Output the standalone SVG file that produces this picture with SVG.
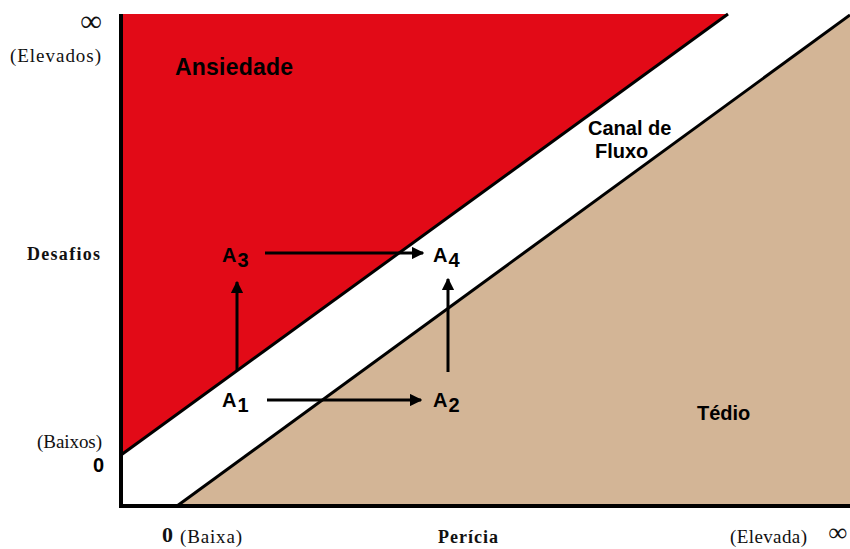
<svg xmlns="http://www.w3.org/2000/svg" width="850" height="549" viewBox="0 0 850 549">
<defs>
<style>
.serif{font-family:"Liberation Serif","Times New Roman",serif;fill:#111}
.sans{font-family:"Liberation Sans",Arial,sans-serif;font-weight:bold;fill:#000}
.bnd{stroke:#000;stroke-width:3;fill:none}
.arr{stroke:#000;stroke-width:3;fill:none;marker-end:url(#ah)}
</style>
<marker id="ah" viewBox="0 0 10 10" refX="9" refY="5" markerWidth="4.2" markerHeight="4.2" orient="auto" markerUnits="strokeWidth">
<path d="M0,0 L10,5 L0,10 Z" fill="#000"/>
</marker>
</defs>
<rect width="850" height="549" fill="#fff"/>
<g id="regions">
<polygon id="ansiedade-area" points="121,14 728,14 121,455" fill="#e20a17"/>
<polygon id="tedio-area" points="177,506 850,15 850,506" fill="#d3b596"/>
<line class="bnd" x1="121" y1="455" x2="728" y2="14"/>
<line class="bnd" x1="177" y1="506" x2="850" y2="15"/>
</g>
<g id="axes">
<line x1="121" y1="14" x2="121" y2="508" stroke="#000" stroke-width="4"/>
<line x1="119" y1="506" x2="850" y2="506" stroke="#000" stroke-width="4"/>
</g>
<g id="labels">
<text class="sans" x="175" y="75" font-size="23" textLength="118" lengthAdjust="spacing">Ansiedade</text>
<text class="sans" x="588" y="135" font-size="20">Canal de</text>
<text class="sans" x="595" y="158" font-size="20">Fluxo</text>
<text class="sans" x="697" y="420" font-size="20">Tédio</text>
<text class="serif" x="102" y="31" font-size="30" text-anchor="end" font-weight="bold">∞</text>
<text class="serif" x="10" y="62" font-size="19" textLength="91" lengthAdjust="spacing">(Elevados)</text>
<text class="serif" x="27" y="260" font-size="18" font-weight="bold" textLength="73" lengthAdjust="spacing">Desafios</text>
<text class="serif" x="37" y="448" font-size="19" textLength="65" lengthAdjust="spacing">(Baixos)</text>
<text class="sans" x="104" y="472" font-size="20" text-anchor="end">0</text>
<text class="serif" x="162" y="542" font-size="22" font-weight="bold">0</text>
<text class="serif" x="180" y="543" font-size="19" textLength="62" lengthAdjust="spacing">(Baixa)</text>
<text class="serif" x="438" y="543" font-size="18" font-weight="bold" textLength="60" lengthAdjust="spacing">Perícia</text>
<text class="serif" x="730" y="543" font-size="19" textLength="77" lengthAdjust="spacing">(Elevada)</text>
<text class="serif" x="847" y="541" font-size="26" text-anchor="end" font-weight="bold">∞</text>
</g>
<g id="A1"><text class="sans" x="222" y="407" font-size="20">A<tspan dx="1" dy="5">1</tspan></text></g>
<g id="A2"><text class="sans" x="433" y="407" font-size="20">A<tspan dx="1" dy="5">2</tspan></text></g>
<g id="A3"><text class="sans" x="222" y="262" font-size="20">A<tspan dx="1" dy="5">3</tspan></text></g>
<g id="A4"><text class="sans" x="433" y="262" font-size="20">A<tspan dx="1" dy="5">4</tspan></text></g>
<g id="connectors">
<line class="arr" x1="267" y1="400" x2="421" y2="400"/>
<line class="arr" x1="265" y1="253" x2="423" y2="253"/>
<line class="arr" x1="237" y1="370" x2="237" y2="282"/>
<line class="arr" x1="448" y1="372" x2="448" y2="279"/>
</g>
</svg>
